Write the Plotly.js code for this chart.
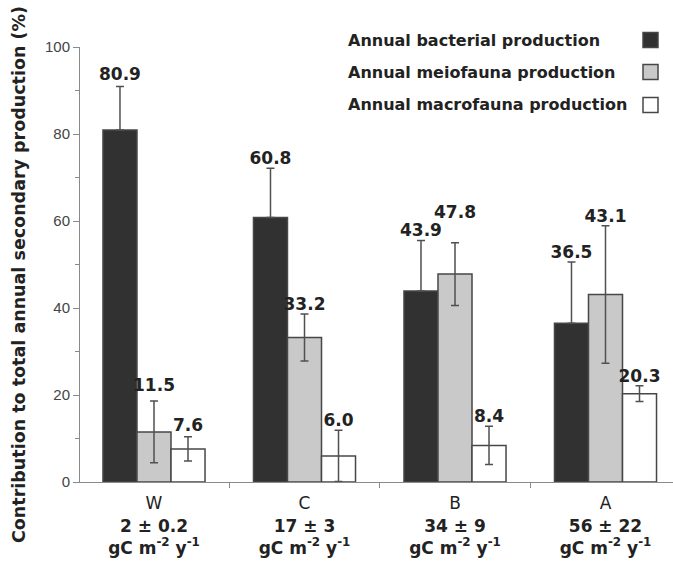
<!DOCTYPE html>
<html>
<head>
<meta charset="utf-8">
<script src="https://cdn.plot.ly/plotly-3.0.1.min.js"></script>
<style>
  html, body { margin: 0; padding: 0; background: #fff; }
  #chart { width: 673px; height: 564px; }
</style>
</head>
<body>
<div id="chart"></div>
<script>
// ---- data ----
const categories = ['W', 'C', 'B', 'A'];
const productivity = ['2 ± 0.2', '17 ± 3', '34 ± 9', '56 ± 22'];
const productivityUnit = 'gC m<sup>-2</sup> y<sup>-1</sup>';
const seriesNames = ['Annual bacterial production', 'Annual meiofauna production', 'Annual macrofauna production'];
const bacterial = [80.9, 60.8, 43.9, 36.5];
const bacterialErr = [10.0, 11.3, 11.6, 14.1];
const meiofauna = [11.5, 33.2, 47.8, 43.1];
const meiofaunaErr = [7.1, 5.4, 7.2, 15.8];
const macrofauna = [7.6, 6.0, 8.4, 20.3];
const macrofaunaErr = [2.8, 5.9, 4.4, 1.8];
const yTickVals = [0, 20, 40, 60, 80, 100];

// ---- styling ----
const fills = ['#313131', '#c9c9c9', '#ffffff'];
const outline = '#474747';
const textColor = '#222222';
const W = 673, H = 564;
const M = { l: 80, r: 0, t: 47, b: 82 };
const bargap = 0.322;
const catPx = 150.5;           // pixels per category
const firstCenterPx = 154;     // page x of first category centre
// extra lift (px) for a few value labels so they do not collide
const labelLift = [[2, 0, 0, 0], [6, 0, 21, 0], [2, 0, 0, 0]];
// the lower half of the error bar is hidden inside the dark bars
const showMinus = [false, true, true];

const values = [bacterial, meiofauna, macrofauna];
const errors = [bacterialErr, meiofaunaErr, macrofaunaErr];
const idx = categories.map((c, i) => i);

const plotW = W - M.l - M.r, plotH = H - M.t - M.b;
const pxPerUnit = plotH / 100;
const px2x = px => (px - M.l) / plotW;
const px2y = py => (H - M.b - py) / plotH;
const boldFont = (size) => ({ family: 'DejaVu Sans', size: size, color: textColor, weight: 700 });

const traces = values.map((v, k) => ({
  type: 'bar',
  name: seriesNames[k],
  x: idx,
  y: v,
  marker: { color: fills[k], line: { color: outline, width: 1.5 } },
  error_y: {
    type: 'data', symmetric: false, array: errors[k],
    arrayminus: showMinus[k] ? errors[k] : errors[k].map(() => 0),
    visible: true, color: '#505050', thickness: 1.5, width: 4
  },
  showlegend: false,
  hoverinfo: 'skip'
}));

// value labels above the error bars
const barW = (1 - bargap) / 3;
values.forEach((v, k) => {
  traces.push({
    type: 'scatter', mode: 'text',
    x: idx.map(i => i + (k - 1) * barW),
    y: v.map((val, i) => val + errors[k][i] + labelLift[k][i] / pxPerUnit),
    text: v.map(val => val.toFixed(1)),
    textposition: 'top center',
    textfont: boldFont(17),
    showlegend: false, hoverinfo: 'skip', cliponaxis: false
  });
});

const tickText = categories.map((c, i) => c + '<br><b>' + productivity[i] + '</b><br><b>' + productivityUnit + '</b>');

const annotations = [];
const shapes = [];
// legend drawn manually: text on the left, swatch on the right
const legendRows = [40, 72, 105];
seriesNames.forEach((name, k) => {
  annotations.push({
    xref: 'paper', yref: 'paper', x: px2x(346), y: px2y(legendRows[k]),
    xanchor: 'left', yanchor: 'middle', showarrow: false,
    text: name,
    font: boldFont(16)
  });
  shapes.push({
    type: 'rect', xref: 'paper', yref: 'paper',
    x0: px2x(643), x1: px2x(658), y0: px2y(legendRows[k] + 7.5), y1: px2y(legendRows[k] - 7.5),
    fillcolor: fills[k], line: { color: outline, width: 1.5 }
  });
});
// y-axis title
annotations.push({
  xref: 'paper', yref: 'paper', x: px2x(19), y: px2y(275),
  xanchor: 'center', yanchor: 'middle', textangle: -90, showarrow: false,
  text: 'Contribution to total annual secondary production (%)',
  font: boldFont(17.5)
});

const x0 = -(firstCenterPx - M.l) / catPx;
const layout = {
  width: W, height: H,
  margin: M,
  paper_bgcolor: '#ffffff', plot_bgcolor: '#ffffff',
  barmode: 'group', bargap: bargap, bargroupgap: 0,
  xaxis: {
    type: 'linear',
    range: [x0, x0 + plotW / catPx],
    tickmode: 'array', tickvals: idx, ticktext: tickText,
    ticks: '', ticklabelstandoff: 6,
    minor: { tickmode: 'linear', tick0: 0.5, dtick: 1, ticks: 'outside', ticklen: 5, tickcolor: '#8a8a8a', showgrid: false },
    showline: true, linecolor: '#8a8a8a', linewidth: 1,
    showgrid: false, zeroline: false,
    tickfont: { family: 'DejaVu Sans', size: 17, color: textColor },
    fixedrange: true
  },
  yaxis: {
    range: [0, 100],
    tickmode: 'array', tickvals: yTickVals,
    ticks: 'outside', ticklen: 6, tickcolor: '#8a8a8a',
    minor: { dtick: 10, ticks: 'outside', ticklen: 4, tickcolor: '#8a8a8a', showgrid: false },
    showline: true, linecolor: '#8a8a8a', linewidth: 1,
    showgrid: false, zeroline: false,
    tickfont: { family: 'Liberation Sans', size: 15, color: '#444444' },
    fixedrange: true
  },
  annotations: annotations,
  shapes: shapes
};

Plotly.newPlot('chart', traces, layout, { displayModeBar: false, staticPlot: true });
</script>
</body>
</html>
